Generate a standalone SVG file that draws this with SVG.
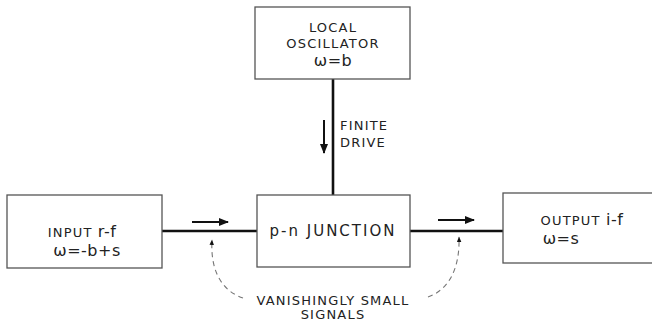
<svg xmlns="http://www.w3.org/2000/svg" width="652" height="321" viewBox="0 0 652 321">
<style>
.box{fill:#fff;stroke:#555;stroke-width:1.3}
.t{font-family:"DejaVu Sans","Liberation Sans",sans-serif;fill:#222;text-anchor:middle}
.ts{font-family:"DejaVu Sans","Liberation Sans",sans-serif;fill:#222;text-anchor:start}
.cap{font-size:13px;letter-spacing:1.2px}
.big{font-size:16px;letter-spacing:0.5px}
.wire{stroke:#111;stroke-width:2.6;fill:none}
.dash{stroke:#777;stroke-width:1.1;stroke-dasharray:5,4;fill:none}
.sarr{stroke:#111;stroke-width:2;fill:none}
</style>
<defs>
<marker id="ah" viewBox="0 0 10 10" refX="9" refY="5" markerWidth="5" markerHeight="5" orient="auto-start-reverse">
<path d="M0,1 L10,5 L0,9 Z" fill="#111"/>
</marker>
</defs>
<g id="connectors">
<line class="wire" x1="333" y1="79" x2="333" y2="195"/>
<line class="wire" x1="162" y1="231" x2="257" y2="231"/>
<line class="wire" x1="410" y1="231" x2="503" y2="231"/>
<line class="sarr" x1="324" y1="120" x2="324" y2="153" marker-end="url(#ah)"/>
<line class="sarr" x1="192" y1="222" x2="228" y2="222" marker-end="url(#ah)"/>
<line class="sarr" x1="438" y1="220" x2="474" y2="220" marker-end="url(#ah)"/>
<path class="dash" d="M243,298 C225,292 210,275 212,240" marker-end="url(#ah)"/>
<path class="dash" d="M428,297 C448,290 460,270 459,237" marker-end="url(#ah)"/>
</g>
<g id="local-oscillator">
<rect class="box" x="255" y="7" width="155" height="72"/>
<text class="t cap" x="333" y="32">LOCAL</text>
<text class="t cap" x="333" y="48">OSCILLATOR</text>
<text class="t big" x="333" y="66">ω=b</text>
</g>
<g id="input">
<rect class="box" x="7" y="195" width="155" height="73"/>
<text class="t" x="82" y="237"><tspan class="cap">INPUT </tspan><tspan class="big">r-f</tspan></text>
<text class="t big" x="87" y="256">ω=-b+s</text>
</g>
<g id="pn-junction">
<rect class="box" x="257" y="195" width="153" height="72"/>
<text class="t" x="333" y="236" font-size="15" style="letter-spacing:2px">p-n JUNCTION</text>
</g>
<g id="output">
<rect class="box" x="503" y="193" width="152" height="70"/>
<text class="t" x="582" y="225"><tspan class="cap">OUTPUT </tspan><tspan class="big">i-f</tspan></text>
<text class="t big" x="561" y="244">ω=s</text>
</g>
<g id="labels">
<text class="ts cap" x="340" y="130">FINITE</text>
<text class="ts cap" x="340" y="147">DRIVE</text>
<text class="t cap" x="333" y="305">VANISHINGLY SMALL</text>
<text class="t cap" x="333" y="319">SIGNALS</text>
</g>
</svg>
